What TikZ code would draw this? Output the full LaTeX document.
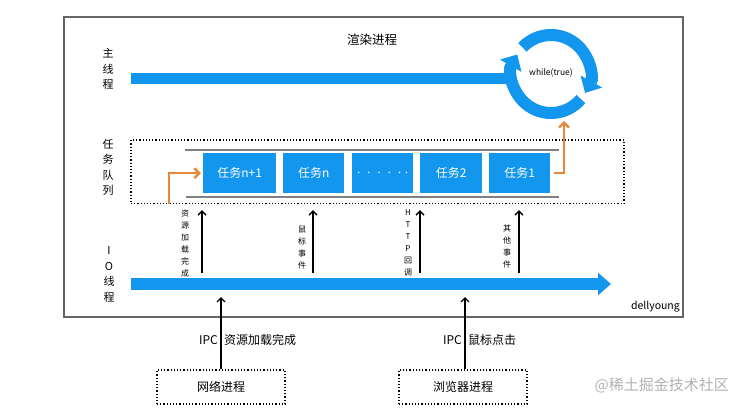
\documentclass[tikz,border=0pt]{standalone}
\usepackage{fontspec}
\setmainfont{Noto Sans CJK SC}
\usetikzlibrary{arrows.meta,calc}
\definecolor{tblue}{HTML}{1296EE}
\definecolor{torange}{HTML}{E8873A}
\definecolor{tgray}{HTML}{808080}
\definecolor{frame}{HTML}{666666}
\begin{document}
\begin{tikzpicture}[x=1pt,y=-1pt,
  vlabel/.style={font=\fontsize{11}{15.5}\selectfont, align=center, inner sep=0pt},
  evlabel/.style={font=\fontsize{8}{12}\selectfont, align=center, inner sep=0pt},
  task/.style={fill=tblue, text=white, font=\fontsize{12}{14}\selectfont, minimum height=40pt, inner sep=0pt, anchor=north west},
  bar/.style={tblue, line width=11.5pt},
  ringarc/.style={tblue, line width=12pt, -{Triangle[length=13pt,width=24pt]}},
  evarrow/.style={line width=1.4pt, -{Straight Barb[length=4pt,width=8pt]}},
  orarrow/.style={torange, line width=2.4pt, -{Straight Barb[length=5pt,width=10pt]}},
  dotbox/.style={draw, dotted, line width=1.2pt},
  grayline/.style={tgray, line width=2.5pt},
  lbl/.style={font=\fontsize{12}{14}\selectfont, inner sep=0pt},
]
\useasboundingbox (0,0) rectangle (732,410);
\fill[white] (0,0) rectangle (732,410);

% outer frame
\node[draw=frame, line width=1.5pt, minimum width=619pt, minimum height=300pt, inner sep=0pt] (render) at (373.5,167) {};
\node[font=\fontsize{12.5}{14}\selectfont] (title) at (372,40) {渲染进程};

% side labels
\node[vlabel] (lmain) at (108,69) {主\\线\\程};
\node[vlabel] (lqueue) at (108,167.5) {任\\务\\队\\列};
\node[vlabel] (lio) at (109,274.5) {I\\O\\线\\程};

% main thread bar and loop ring
\coordinate (ring) at (551,74);
\coordinate (mainstart) at (131,78.5);
\coordinate (mainend) at (515,78.5);
\draw[bar] (mainstart) -- (mainend);
\draw[ringarc] ($(ring)+(-137:39)$) arc[start angle=-137, end angle=29, radius=39];
\draw[ringarc] ($(ring)+(40:39)$) arc[start angle=40, end angle=210, radius=39];
\node[font=\fontsize{8.5}{10}\selectfont, inner sep=0pt] (loop) at (551,73) {while(true)};

% task queue
\node[dotbox, minimum width=493pt, minimum height=63.5pt, inner sep=0pt] (queue) at (377.5,171.75) {};
\coordinate (gl1) at (185,150);
\coordinate (gl2) at (559,150);
\coordinate (gl3) at (186,197);
\coordinate (gl4) at (559,197);
\draw[grayline] (gl1) -- (gl2);
\draw[grayline] (gl3) -- (gl4);
\node[task, minimum width=73pt] (t5) at (203,153) {任务n+1};
\node[task, minimum width=61pt] (t4) at (283,153) {任务n};
\node[task, minimum width=61pt, font=\fontsize{15}{15}\selectfont] (t3) at (352,153) {$\cdot\kern3pt\cdot\kern3pt\cdot\kern3pt\cdot\kern3pt\cdot\kern3pt\cdot$};
\node[task, minimum width=62pt] (t2) at (420,153) {任务2};
\node[task, minimum width=61pt] (t1) at (489,153) {任务1};

% orange arrows
\coordinate (inq) at (169,203.5);
\draw[orarrow] (inq) |- ([xshift=-2pt]t5.west);
\coordinate (ringbot) at (564,121);
\draw[orarrow] ([xshift=4pt]t1.east) -| (ringbot);

% IO thread bar
\coordinate (iostart) at (131,284);
\coordinate (ioend) at (611,284);
\coordinate (iobot) at (0,290);
\draw[bar, line width=12pt, -{Triangle[length=13pt,width=22pt]}] (iostart) -- (ioend);

% events
\coordinate (e1) at (202,273);
\coordinate (e2) at (313,273);
\coordinate (e3) at (420,273);
\coordinate (e4) at (519,273);
\foreach \e in {e1,e2,e3,e4}
  \draw[evarrow] (\e) -- ([yshift=-6pt]\e |- queue.south);
\node[evlabel] (ev1) at (185,243.5) {资\\源\\加\\载\\完\\成};
\node[evlabel] (ev2) at (302,247) {鼠\\标\\事\\件};
\node[evlabel] (ev3) at (408,242.5) {H\\T\\T\\P\\回\\调};
\node[evlabel] (ev4) at (507,246) {其\\他\\事\\件};

\node[font=\fontsize{10.5}{12}\selectfont, anchor=east, inner sep=0pt] (sig) at (680,307) {dellyoung};

% processes
\node[dotbox, minimum width=128pt, minimum height=34pt, lbl] (net) at (221,387) {网络进程};
\node[dotbox, minimum width=128pt, minimum height=34pt, lbl] (browser) at (463,387) {浏览器进程};
\draw[evarrow] (net.north) -- ([yshift=-7pt]net.north |- iobot);
\draw[evarrow] ([xshift=2pt]browser.north) -- ([xshift=2pt,yshift=-7pt]browser.north |- iobot);
\node[lbl, anchor=east] (ipc1) at (218,340) {IPC};
\node[lbl, anchor=west] (ipc1t) at (224,340) {资源加载完成};
\node[lbl, anchor=east] (ipc2) at (462,340) {IPC};
\node[lbl, anchor=west] (ipc2t) at (468,340) {鼠标点击};

\node[anchor=east, text=black!30, font=\fontsize{15}{17}\selectfont, inner sep=0pt] (wm) at (729,385) {@稀土掘金技术社区};
\end{tikzpicture}
\end{document}
